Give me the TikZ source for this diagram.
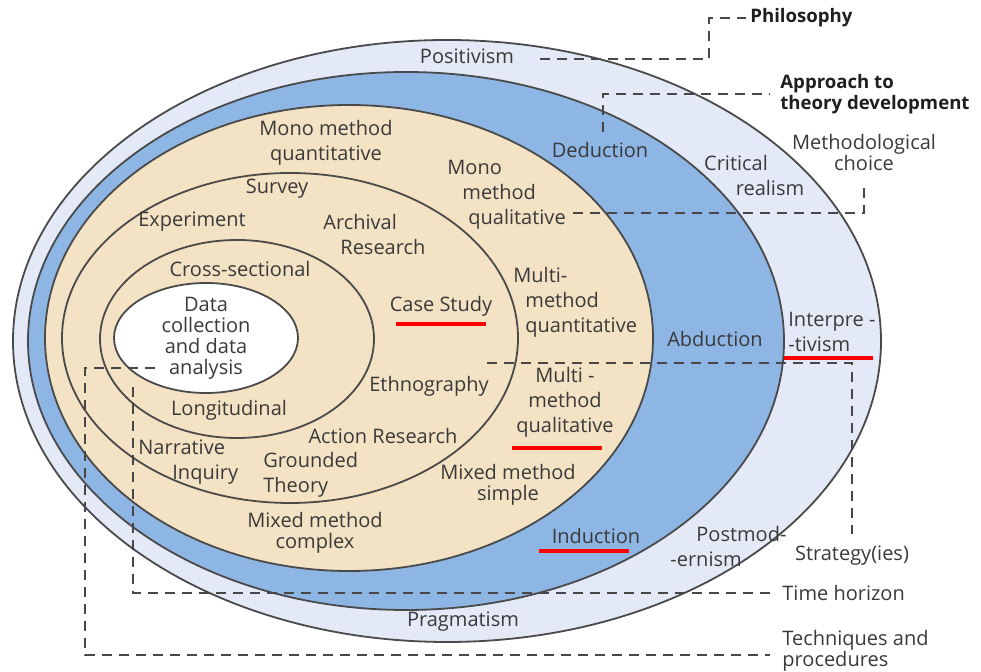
\documentclass[tikz,border=0pt]{standalone}
\usepackage{fontspec}
\setmainfont{Open Sans}
\definecolor{philofill}{HTML}{E3E9F6}
\definecolor{approachfill}{HTML}{8EB6E4}
\definecolor{choicefill}{HTML}{F4E2C4}
\definecolor{ringline}{HTML}{4A4A4A}
\definecolor{labelgray}{HTML}{3A3A3A}
\begin{document}
\begin{tikzpicture}[x=0.5pt,y=-0.5pt,
    layer/.style={draw=ringline, line width=0.9pt},
    lbl/.style={text=labelgray, font=\fontsize{10}{12.5}\selectfont, align=center, inner sep=0pt},
    tight/.style={font=\fontsize{10}{10.5}\selectfont},
    head/.style={text=black!88, font=\bfseries\fontsize{9.3}{10.2}\selectfont, align=left, inner sep=0pt},
    leader/.style={draw=black!72, dash pattern=on 5pt off 3.5pt, line width=0.75pt},
    redmark/.style={draw=red, line width=1.6pt}]
    \useasboundingbox (0,0) rectangle (981,672);
    \fill[white] (0,0) rectangle (981,672);
    \draw[layer, fill=philofill] (447,341) ellipse [x radius=434, y radius=301];
    \draw[layer, fill=approachfill] (406,341) ellipse [x radius=378, y radius=269];
    \draw[layer, fill=choicefill] (349,338) ellipse [x radius=304, y radius=233];
    \draw[layer] (290,338) ellipse [x radius=228, y radius=165];
    \draw[layer] (237,339) ellipse [x radius=137, y radius=99];
    \draw[layer, fill=white] (206,338) ellipse [x radius=92, y radius=55];
    \node[lbl] (positivism) at (467,56) {Positivism};
    \node[lbl] (pragmatism) at (463,622) {Pragmatism};
    \node[lbl] (critical) at (736,163) {Critical};
    \node[lbl] (realism) at (770,188) {realism};
    \node[lbl, align=left, anchor=west] (interpre) at (788,332) {Interpre -\\-tivism};
    \node[lbl, align=left, anchor=west] (postmod) at (670,547) {\hspace*{1.3em}Postmod-\\-ernism};
    \node[lbl] (deduction) at (600,150) {Deduction};
    \node[lbl] (abduction) at (715,339) {Abduction};
    \node[lbl] (induction) at (596,536) {Induction};
    \node[lbl] (monoquant) at (326,143) {Mono method\\quantitative};
    \node[lbl, align=left, anchor=west] (monoqual) at (447,195) {Mono\\\hspace*{0.75em}method\\\hspace*{1.05em}qualitative};
    \node[lbl, align=left, anchor=west] (multiquant) at (513,302) {Multi-\\\hspace*{0.6em}method\\\hspace*{0.6em}quantitative};
    \node[lbl] (multiqual) at (565,402) {Multi -\\method\\qualitative};
    \node[lbl, tight] (mixedsimple) at (508,485) {Mixed method\\simple};
    \node[lbl, tight] (mixedcomplex) at (315,533) {Mixed method\\complex};
    \node[lbl] (survey) at (277,189) {Survey};
    \node[lbl] (experiment) at (192,222) {Experiment};
    \node[lbl, align=left, anchor=west] (archival) at (323,235) {Archival\\\hspace*{0.85em}Research};
    \node[lbl] (casestudy) at (441,306) {Case Study};
    \node[lbl] (ethnography) at (429,386) {Ethnography};
    \node[lbl] (actionres) at (383,436) {Action Research};
    \node[lbl, align=left, anchor=west] (narrative) at (138,462) {Narrative\\\hspace*{1.7em}Inquiry};
    \node[lbl, align=left, anchor=west] (grounded) at (263,475) {Grounded\\Theory};
    \node[lbl] (crosssec) at (240,269) {Cross-sectional};
    \node[lbl] (longitudinal) at (229,410) {Longitudinal};
    \node[lbl, tight] (datacoll) at (206,338) {Data\\collection\\and data\\analysis};
    \node[head] (philosophy) at (750,18) [anchor=west] {Philosophy};
    \node[head] (approach) at (780,94) [anchor=west] {Approach to\\theory development};
    \node[lbl, tight] (methodological) at (864,153) {Methodological\\choice};
    \node[lbl] (strategy) at (852,556) {Strategy(ies)};
    \node[lbl, anchor=west] (timehorizon) at (782,593) {Time horizon};
    \node[lbl, tight, align=left, anchor=west] (techniques) at (782,651) {Techniques and\\procedures};
    \coordinate (philostart) at (540,59);
    \coordinate (philoturn) at (709,18);
    \coordinate (approachstart) at (603,132);
    \coordinate (choicestart) at (573,213);
    \coordinate (strategystart) at (487,363);
    \coordinate (timestart) at (133,387);
    \coordinate (techstart) at (155,368);
    \coordinate (techturn) at (85,655);
    \draw[leader, shorten >=2pt] (philostart) -| (philoturn) -- (philosophy.west);
    \draw[leader, shorten >=5pt] (approachstart) |- (approach.west);
    \draw[leader, shorten >=6pt] (choicestart) -| (methodological.south);
    \draw[leader, shorten >=6pt] (strategystart) -| (strategy.north);
    \draw[leader, shorten >=6pt] (timestart) |- (timehorizon.west);
    \draw[leader, shorten >=6pt] (techstart) -| (techturn) -- (techturn -| techniques.west);
    \draw[redmark] (396,324) -- (486,324);
    \draw[redmark] (784,358) -- (873,358);
    \draw[redmark] (512,448) -- (602,448);
    \draw[redmark] (539,551) -- (629,551);
\end{tikzpicture}
\end{document}
